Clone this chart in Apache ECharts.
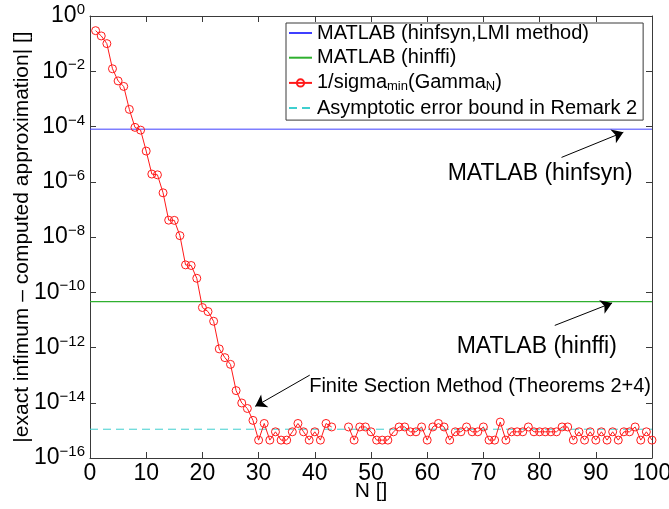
<!DOCTYPE html>
<html>
<head>
<meta charset="utf-8">
<script src="https://cdn.jsdelivr.net/npm/echarts/dist/echarts.min.js"></script>
<style>
html,body{margin:0;padding:0;background:#fff;}
#chart{width:669px;height:509px;}
</style>
</head>
<body>
<div id="chart"></div>
<script>
// ---- data ----
const N = [
  1,2,3,4,5,6,7,8,9,10,11,12,13,14,15,16,17,18,19,20,
  21,22,23,24,25,26,27,28,29,30,31,32,33,34,35,36,37,38,39,40,
  41,42,43,44,45,46,47,48,49,50,51,52,53,54,55,56,57,58,59,60,
  61,62,63,64,65,66,67,68,69,70,71,72,73,74,75,76,77,78,79,80,
  81,82,83,84,85,86,87,88,89,90,91,92,93,94,95,96,97,98,99,100
];
const sigmaErr = [
  2.95e-1, 1.9e-1, 1.0e-1, 1.23e-2, 4.47e-3, 2.82e-3, 4.17e-4, 9.3e-5, 7.4e-5, 1.29e-5,
  1.9e-6, 1.78e-6, 3.98e-7, 4.07e-8, 4.0e-8, 1.12e-8, 9.8e-10, 9.3e-10, 3.2e-10, 2.8e-11,
  2.0e-11, 8.9e-12, 8.9e-13, 4.3e-13, 2.45e-13, 2.75e-14, 9.8e-15, 6.2e-15, 2.3e-15, 4.44e-16,
  1.78e-15, 4.44e-16, 8.88e-16, 4.44e-16, 4.44e-16, 8.88e-16, 1.78e-15, 8.88e-16, 4.44e-16, 8.88e-16,
  4.44e-16, 1.78e-15, 1.33e-15, null, null, 1.33e-15, 4.44e-16, 1.33e-15, 1.33e-15, 8.88e-16,
  4.44e-16, 4.44e-16, 4.44e-16, 8.88e-16, 1.33e-15, 1.33e-15, 8.88e-16, 8.88e-16, 1.33e-15, 4.44e-16,
  1.33e-15, 1.78e-15, 1.33e-15, 4.44e-16, 8.88e-16, 8.88e-16, 1.33e-15, 8.88e-16, 8.88e-16, 1.33e-15,
  4.44e-16, 4.44e-16, 2.0e-15, 4.44e-16, 8.88e-16, 8.88e-16, 8.88e-16, 1.33e-15, 8.88e-16, 8.88e-16,
  8.88e-16, 8.88e-16, 8.88e-16, 1.33e-15, 1.33e-15, 4.44e-16, 8.88e-16, 4.44e-16, 8.88e-16, 4.44e-16,
  8.88e-16, 4.44e-16, 8.88e-16, 4.44e-16, 8.88e-16, 8.88e-16, 1.33e-15, 4.44e-16, 8.88e-16, 4.44e-16
];
const xRange = [0, 100];
const hinfsynLevel = 8e-5;
const hinffiLevel = 4.6e-11;
const boundLevel = 1.1e-15;
const yTickExponents = [0,-2,-4,-6,-8,-10,-12,-14,-16];

const names = {
  hinfsyn: 'MATLAB (hinfsyn,LMI method)',
  hinffi: 'MATLAB (hinffi)',
  sigma: 'sigma',
  bound: 'Asymptotic error bound in Remark 2'
};

// annotation texts and arrows (data coordinates)
const annoTexts = [
  {text: 'MATLAB (hinfsyn)', at: [80.1, 2.0e-6], size: 23, align: 'center'},
  {text: 'MATLAB (hinffi)', at: [79.5, 1.05e-12], size: 23, align: 'center'},
  {text: 'Finite Section Method (Theorems 2+4)', at: [39.0, 3.9e-14], size: 20, align: 'left'}
];
const annoArrows = [
  {from: [83.9, 7.6e-6], to: [94.9, 6.2e-5]},
  {from: [82.7, 6.3e-12], to: [92.9, 4.1e-11]},
  {from: [39.1, 1.0e-13], to: [29.4, 7.4e-15]}
];

const FONT = '"Liberation Sans", Arial, Helvetica, sans-serif';
const axisColor = '#3a3a3a';

function supLabel(v) {
  const e = Math.round(Math.log10(v));
  const s = e < 0 ? '\u2212' + (-e) : String(e);
  return '{b|10}{s|' + s + '}';
}

const sigmaData = N.map((n, i) => [n, sigmaErr[i] == null ? '-' : sigmaErr[i]]);

const baseX = {
  type: 'value', min: xRange[0], max: xRange[1], interval: 10,
  axisLine: {show: true, onZero: false, lineStyle: {color: axisColor, width: 1}},
  axisTick: {show: true, inside: true, length: 6, lineStyle: {color: axisColor}},
  splitLine: {show: false}
};
const baseY = {
  type: 'log', logBase: 10, min: Math.pow(10, yTickExponents[yTickExponents.length-1]), max: Math.pow(10, yTickExponents[0]), interval: 2,
  axisLine: {show: true, onZero: false, lineStyle: {color: axisColor, width: 1}},
  axisTick: {show: true, inside: true, length: 6, lineStyle: {color: axisColor}},
  splitLine: {show: false},
  minorTick: {show: false}
};

const noIcon = {color: 'rgba(0,0,0,0)', borderWidth: 0, borderColor: 'rgba(0,0,0,0)'};

const option = {
  animation: false,
  backgroundColor: '#fff',
  textStyle: {fontFamily: FONT},
  grid: {left: 90, right: 17, top: 16, bottom: 51, containLabel: false, outerBoundsMode: 'none'},
  xAxis: [
    Object.assign({}, baseX, {
      position: 'bottom',
      name: 'N []', nameLocation: 'middle', nameGap: 23, nameMoveOverlap: false,
      nameTextStyle: {fontSize: 21, color: '#000', fontFamily: FONT},
      axisLabel: {fontSize: 23, color: '#000', margin: 4, fontFamily: FONT}
    }),
    Object.assign({}, baseX, {position: 'top', axisLabel: {show: false}})
  ],
  yAxis: [
    Object.assign({}, baseY, {
      position: 'left',
      name: '|exact infimum \u2013 computed approximation| []',
      nameLocation: 'middle', nameGap: 57, nameRotate: 90, nameMoveOverlap: false,
      nameTextStyle: {fontSize: 21, color: '#000', fontFamily: FONT},
      axisLabel: {
        margin: 5, color: '#000', formatter: supLabel,
        rich: {
          b: {fontSize: 23, color: '#000', fontFamily: FONT, lineHeight: 22},
          s: {fontSize: 15, color: '#000', fontFamily: FONT, lineHeight: 14, padding: [0, 0, 12, 0]}
        }
      }
    }),
    Object.assign({}, baseY, {position: 'right', axisLabel: {show: false}})
  ],
  legend: {
    orient: 'vertical', left: 286, top: 23,
    data: [
      {name: names.hinfsyn, itemStyle: noIcon},
      {name: names.hinffi, itemStyle: noIcon},
      {name: names.sigma},
      {name: names.bound, itemStyle: noIcon}
    ],
    itemWidth: 23, itemHeight: 9, itemGap: 4.7,
    padding: [0, 6, 2, 2],
    borderColor: axisColor, borderWidth: 1, backgroundColor: '#fff',
    selectedMode: false,
    formatter: function (name) {
      if (name === names.sigma) return '{m|1/sigma}{sub|min}{m|(Gamma}{sub|N}{m|)}';
      return name;
    },
    textStyle: {
      fontSize: 20, color: '#000', fontFamily: FONT, lineHeight: 18,
      rich: {
        m: {fontSize: 20, color: '#000', fontFamily: FONT, lineHeight: 18},
        sub: {fontSize: 13, color: '#000', fontFamily: FONT, lineHeight: 10, padding: [8, 0, 0, 0]}
      }
    }
  },
  series: [
    {
      name: names.hinfsyn, type: 'line',
      data: [[xRange[0], hinfsynLevel], [xRange[1], hinfsynLevel]],
      symbol: 'none', lineStyle: {color: '#3f3fff', width: 1}, itemStyle: {color: '#3f3fff'},
      z: 2,
      markLine: {
        silent: true, symbol: ['none', 'arrow'], symbolSize: 11,
        label: {show: false},
        lineStyle: {color: '#000', width: 1, type: 'solid'},
        itemStyle: {color: '#000'},
        data: annoArrows.map(a => [{coord: a.from}, {coord: a.to}])
      },
      markPoint: {
        silent: true, symbol: 'circle', symbolSize: 0,
        data: annoTexts.map(t => ({
          coord: t.at, value: 0,
          label: {show: true, position: 'inside', formatter: t.text, fontSize: t.size, color: '#000', fontFamily: FONT, align: t.align, verticalAlign: 'middle'}
        }))
      }
    },
    {
      name: names.hinffi, type: 'line',
      data: [[xRange[0], hinffiLevel], [xRange[1], hinffiLevel]],
      symbol: 'none', lineStyle: {color: '#2fb02f', width: 1.2}, itemStyle: {color: '#2fb02f'}, z: 2
    },
    {
      name: names.sigma, type: 'line',
      data: sigmaData, connectNulls: false,
      symbol: 'circle', symbolSize: 8, showSymbol: true, showAllSymbol: true,
      lineStyle: {color: '#ff1a1a', width: 1},
      itemStyle: {color: 'rgba(255,255,255,0)', borderColor: '#ff1a1a', borderWidth: 1},
      z: 3
    },
    {
      name: names.bound, type: 'line',
      data: [[xRange[0], boundLevel], [xRange[1], boundLevel]],
      symbol: 'none', lineStyle: {color: '#3fcfcf', width: 1, type: [8, 5]}, itemStyle: {color: '#3fcfcf'}, z: 2
    }
  ]
};

const chart = echarts.init(document.getElementById('chart'), null, {renderer: 'canvas'});
chart.setOption(option);
</script>
</body>
</html>
